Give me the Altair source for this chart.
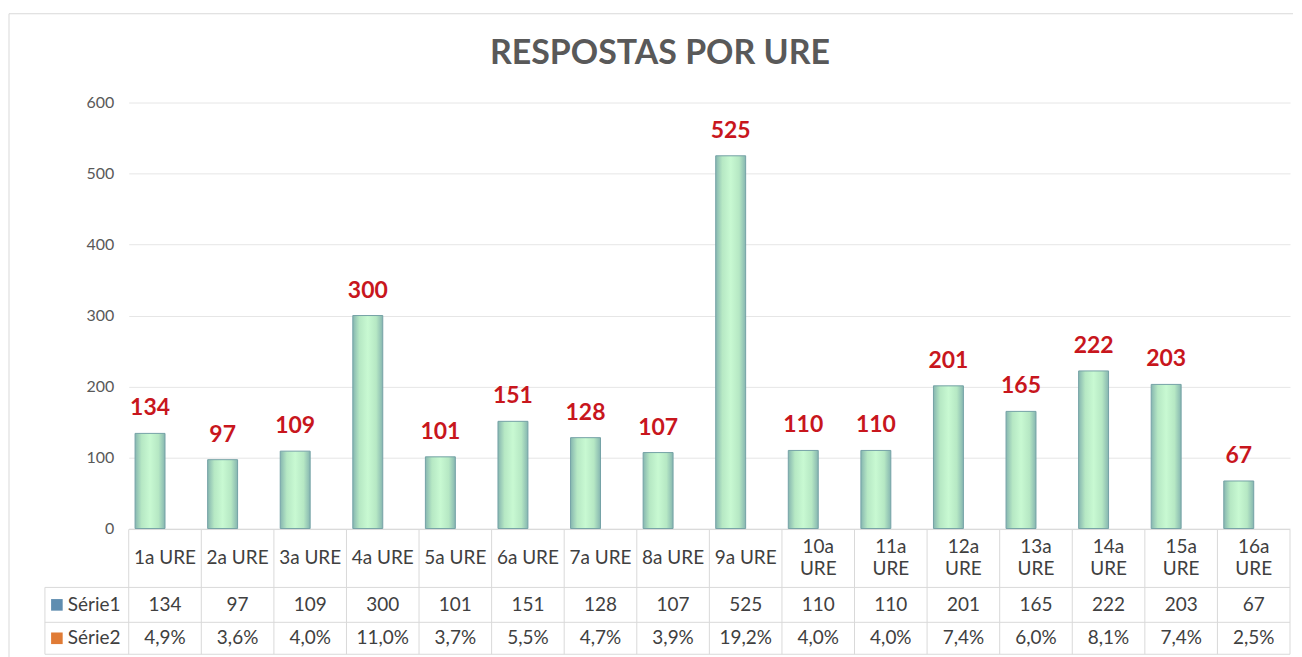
import altair as alt
import pandas as pd

# ---- data ----
categories = ["1a URE", "2a URE", "3a URE", "4a URE", "5a URE", "6a URE", "7a URE", "8a URE",
              "9a URE", "10a URE", "11a URE", "12a URE", "13a URE", "14a URE", "15a URE", "16a URE"]
serie1 = [134, 97, 109, 300, 101, 151, 128, 107, 525, 110, 110, 201, 165, 222, 203, 67]
serie2 = [4.9, 3.6, 4.0, 11.0, 3.7, 5.5, 4.7, 3.9, 19.2, 4.0, 4.0, 7.4, 6.0, 8.1, 7.4, 2.5]
series_names = ["Série1", "Série2"]
y_ticks = [0, 100, 200, 300, 400, 500, 600]
title_text = "RESPOSTAS POR URE"

# ---- layout / style constants ----
W, H = 1164, 427
HEADER_H, ROW1_H, ROW2_H = 58, 35, 32
TABLE_H = HEADER_H + ROW1_H + ROW2_H
LEG_W = 84
LINE_H = 22
FONT = "Lato"
GRID = "#d9d9d9"
TXT = "#404040"
AXIS_TXT = "#595959"
LABEL_RED = "#c8161d"
SERIES_COLORS = ["#5f8db0", "#e07b35"]

bar_fill = alt.LinearGradient(
    gradient="linear", x1=0, x2=1, y1=0, y2=0,
    stops=[
        alt.GradientStop(color="#86b6b0", offset=0),
        alt.GradientStop(color="#b6e8c4", offset=0.22),
        alt.GradientStop(color="#c8f9d2", offset=0.5),
        alt.GradientStop(color="#b6e8c4", offset=0.78),
        alt.GradientStop(color="#86b6b0", offset=1),
    ],
)

bars_df = pd.DataFrame({"cat": categories, "serie": "Série1", "value": serie1})

xs_top = alt.X("cat:N", sort=categories, axis=None,
               scale=alt.Scale(paddingInner=0.175, paddingOuter=0.0875))
xoff = alt.XOffset("serie:N", scale=alt.Scale(domain=series_names, paddingInner=0, paddingOuter=0))
ys = alt.Y("value:Q", scale=alt.Scale(domain=[0, 600], nice=False),
           axis=alt.Axis(values=y_ticks, title=None, domain=False, ticks=False,
                         grid=True, gridColor="#e6e6e6", gridWidth=1,
                         labelFont=FONT, labelFontSize=16, labelColor=AXIS_TXT,
                         labelPadding=15))

base = alt.Chart(bars_df).encode(x=xs_top, xOffset=xoff)
bars = base.mark_bar(fill=bar_fill, stroke="#74a2a6", strokeWidth=1).encode(y=ys)
vals = base.mark_text(font=FONT, fontSize=23, fontWeight="bold", color=LABEL_RED,
                      baseline="bottom", dy=-13).encode(
    y=alt.Y("value:Q"), text=alt.Text("value:Q"))

one = pd.DataFrame({"k": [0]})
frame_top = alt.Chart(one).mark_rule(color=GRID, strokeWidth=1).encode(
    x=alt.value(-120), x2=alt.value(W + 3), y=alt.value(-89))
frame_left = alt.Chart(one).mark_rule(color=GRID, strokeWidth=1).encode(
    x=alt.value(-120), y=alt.value(-89), y2=alt.value(H + TABLE_H + 4))

top = alt.layer(frame_top, frame_left, bars, vals).properties(width=W, height=H)

# ---- data table below the chart ----
s2_text = [f"{v:.1f}".replace(".", ",") + "%" for v in serie2]
row_mid = {"hdr": HEADER_H / 2, "Série1": HEADER_H + ROW1_H / 2,
           "Série2": HEADER_H + ROW1_H + ROW2_H / 2}

hdr_one = pd.DataFrame([{"cat": c, "txt": c, "ypos": row_mid["hdr"]}
                        for c in categories if len(c) <= 6])
hdr_two = pd.DataFrame([{"cat": c, "txt": c.replace(" ", "\n"), "ypos": row_mid["hdr"]}
                        for c in categories if len(c) > 6])
cells = pd.DataFrame(
    [{"cat": c, "txt": str(v), "ypos": row_mid["Série1"]} for c, v in zip(categories, serie1)]
    + [{"cat": c, "txt": t, "ypos": row_mid["Série2"]} for c, t in zip(categories, s2_text)]
)
xs_tab = alt.X("cat:N", sort=categories, axis=None, scale=alt.Scale(paddingInner=0, paddingOuter=0))
ytab = alt.Scale(domain=[0, TABLE_H], range=[0, TABLE_H])
txt_style = dict(font=FONT, fontSize=19, color=TXT, baseline="middle")
txt_enc = dict(x=xs_tab, y=alt.Y("ypos:Q", scale=ytab, axis=None), text="txt:N")

cell_text = alt.Chart(cells).mark_text(**txt_style).encode(**txt_enc)
hdr1_text = alt.Chart(hdr_one).mark_text(**txt_style).encode(**txt_enc)
hdr2_text = alt.Chart(hdr_two).mark_text(lineBreak="\n", lineHeight=LINE_H, dy=-LINE_H / 2,
                                         **txt_style).encode(**txt_enc)

cat_df = pd.DataFrame({"cat": categories})
vlines = alt.Chart(cat_df).mark_rule(color=GRID).encode(
    x=alt.X("cat:N", sort=categories, axis=None, bandPosition=0,
            scale=alt.Scale(paddingInner=0, paddingOuter=0)),
    y=alt.value(0), y2=alt.value(TABLE_H))
vright = alt.Chart(one).mark_rule(color=GRID).encode(
    x=alt.value("width"), y=alt.value(0), y2=alt.value(TABLE_H))
vleft = alt.Chart(one).mark_rule(color=GRID).encode(
    x=alt.value(-LEG_W), y=alt.value(HEADER_H), y2=alt.value(TABLE_H))
htop = alt.Chart(one).mark_rule(color=GRID).encode(
    x=alt.value(0), x2=alt.value("width"), y=alt.value(0))
hl_df = pd.DataFrame({"yl": [HEADER_H, HEADER_H + ROW1_H, TABLE_H]})
hlines = alt.Chart(hl_df).mark_rule(color=GRID).encode(
    x=alt.value(-LEG_W), x2=alt.value("width"), y=alt.Y("yl:Q", scale=ytab, axis=None))

leg_df = pd.DataFrame({"row": series_names, "ypos": [row_mid[s] for s in series_names]})
leg_sq = alt.Chart(leg_df).mark_square(size=135, opacity=1).encode(
    x=alt.value(-LEG_W + 12), y=alt.Y("ypos:Q", scale=ytab, axis=None),
    color=alt.Color("row:N", scale=alt.Scale(domain=series_names, range=SERIES_COLORS), legend=None))
leg_txt = alt.Chart(leg_df).mark_text(font=FONT, fontSize=19, color=TXT, align="left",
                                      baseline="middle").encode(
    x=alt.value(-LEG_W + 23), y=alt.Y("ypos:Q", scale=ytab, axis=None), text="row:N")

table = alt.layer(vlines, vright, vleft, htop, hlines, hdr1_text, hdr2_text, cell_text,
                  leg_sq, leg_txt).properties(width=W, height=TABLE_H)

chart = alt.vconcat(top, table, spacing=1, bounds="flush").properties(
    title=alt.TitleParams(title_text, font=FONT, fontSize=34, fontWeight="bold",
                          color=AXIS_TXT, anchor="middle", offset=-58, dx=9),
    padding={"left": 0, "top": 4, "right": 0, "bottom": 0},
).configure_view(stroke=None)

chart.save("out.html", embed_options={"renderer": "svg", "actions": False})
